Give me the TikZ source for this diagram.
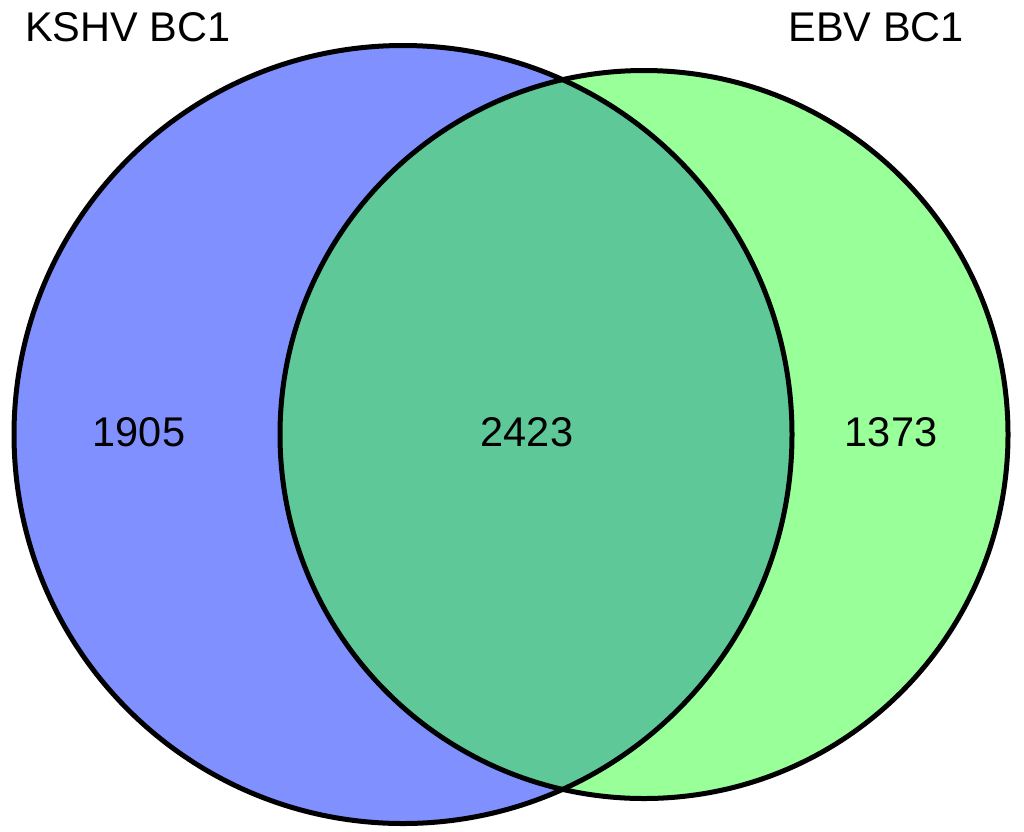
\documentclass[tikz,border=0pt]{standalone}
\usepackage{fontspec}
\setmainfont{Liberation Sans}
\definecolor{cblue}{HTML}{8091FF}
\definecolor{cgreen}{HTML}{99FF99}
\definecolor{cover}{HTML}{5FC899}
\begin{document}
\begin{tikzpicture}[x=1pt,y=-1pt,
  lbl/.style={inner sep=0pt,font=\fontsize{41.5}{48}\selectfont},
  ring/.style={draw=black,line width=5pt}]
\useasboundingbox (0,0) rectangle (1024,831);
\coordinate (c1) at (403,434.5);
\coordinate (c2) at (644,434.5);
\fill[cblue] (c1) circle[radius=389];
\fill[cgreen] (c2) circle[radius=364];
\begin{scope}
  \clip (c1) circle[radius=389];
  \fill[cover] (c2) circle[radius=364];
\end{scope}
\draw[ring] (c1) circle[radius=389];
\draw[ring] (c2) circle[radius=364];
\node[lbl,anchor=base west] (t1) at (25,41) {KSHV BC1};
\node[lbl,anchor=base east] (t2) at (964,41) {EBV BC1};
\node[lbl] (n1) at (139,432) {1905};
\node[lbl] (n2) at (527,432) {2423};
\node[lbl] (n3) at (891,432) {1373};
\end{tikzpicture}
\end{document}
